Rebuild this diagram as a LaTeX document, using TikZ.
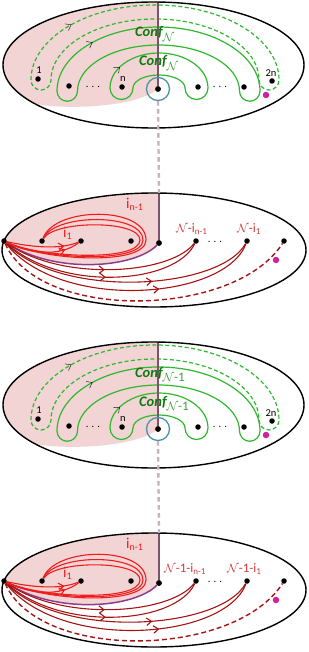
\documentclass[tikz,border=0pt]{standalone}
\usepackage{fontspec}
\setmainfont{Carlito}
\usetikzlibrary{arrows.meta,decorations.markings}
\definecolor{gr}{HTML}{2EB82E}
\definecolor{grtext}{HTML}{0F7A0F}
\definecolor{grsub}{HTML}{3E9E3E}
\definecolor{pinkf}{HTML}{F2D4D4}
\definecolor{stem}{HTML}{7A5468}
\definecolor{dotl}{HTML}{C4B2C0}
\definecolor{circ}{HTML}{4A93A8}
\definecolor{mag}{HTML}{D0209A}
\definecolor{rd}{HTML}{EE1C1C}
\definecolor{drd}{HTML}{A51414}
\definecolor{purp}{HTML}{8C3C8C}
\definecolor{rtext}{HTML}{CC3A3A}
\newcommand{\lsub}[1]{\raisebox{-0.35ex}{\fontsize{10}{10}\selectfont #1}}
\newcommand{\nsub}[1]{\raisebox{-0.35ex}{\fontsize{9}{9}\selectfont #1}}
\newcommand{\confsub}[1]{\raisebox{-0.6ex}{\color{grsub}\fontsize{13}{13}\selectfont\mdseries\upshape #1}}
\tikzset{
 every node/.style={inner sep=0pt},
 dot/.style={circle,fill=black,inner sep=0pt,minimum size=5.5pt},
 mdot/.style={circle,fill=mag,inner sep=0pt,minimum size=6.5pt},
 rim/.style={draw=black,line width=1.4pt},
 gline/.style={draw=gr,line width=1.2pt},
 gdash/.style={gline,dash pattern=on 4pt off 2.5pt},
 stemline/.style={draw=stem,line width=2.4pt},
 dotline/.style={draw=dotl,line width=2.4pt,dash pattern=on 4.5pt off 3.5pt},
 ringst/.style={draw=circ,circle,line width=1.3pt,minimum size=23pt},
 rline/.style={draw=rd,line width=1.1pt},
 drline/.style={draw=drd,line width=1.1pt},
 drdash/.style={drline,line width=1.4pt,dash pattern=on 5pt off 3pt},
 pline/.style={draw=purp,line width=1.5pt},
 arrowend/.style={decorate,decoration={markings,mark=at position 0.999 with {\arrow{Straight Barb[length=5pt,width=7.5pt]}}}},
 arrowat/.style={postaction={decorate},decoration={markings,mark=at position #1 with {\arrow{Straight Barb[length=5pt,width=7.5pt]}}}},
 conf/.style={font=\fontsize{14.5}{14.5}\selectfont\bfseries\itshape,text=grtext,anchor=base west},
 small/.style={font=\fontsize{10.5}{10.5}\selectfont},
 rlab/.style={font=\fontsize{15}{15}\selectfont,text=rd,anchor=base west},
 nlab/.style={font=\fontsize{13}{13}\selectfont,text=rtext,anchor=base west},
}
\newcommand{\panelA}[2]{%
 \begin{scope}
  \clip (153.5,-65) ellipse[x radius=150.5,y radius=63];
  \fill[pinkf] (158,2) -- (158,-89) .. controls (140,-104) and (90,-109) .. (50,-106) .. controls (30,-104) and (15,-99) .. (0,-93) -- (0,2) -- cycle;
 \end{scope}
 % dashed outer loop
 \draw[gdash] (31,-80) arc[start angle=180,end angle=0,x radius=124,y radius=75]
   arc[start angle=0,end angle=-180,radius=10]
   arc[start angle=0,end angle=180,x radius=104,y radius=61]
   arc[start angle=0,end angle=-180,radius=10] -- cycle;
 \path[arrowend,draw=gr,gr,line width=1.2pt] (31,-80) arc[start angle=180,end angle=132,x radius=124,y radius=75];
 % middle loop
 \draw[gline] (57,-91) arc[start angle=180,end angle=0,x radius=101.5,y radius=64]
   arc[start angle=0,end angle=-180,radius=10.25]
   arc[start angle=0,end angle=180,x radius=81,y radius=46]
   arc[start angle=0,end angle=-180,radius=10.25] -- cycle;
 \path[arrowend,draw=gr,gr,line width=1.2pt] (57,-91) arc[start angle=180,end angle=130,x radius=101.5,y radius=64];
 % inner loop
 \draw[gline] (110,-88) arc[start angle=180,end angle=0,x radius=49,y radius=35]
   arc[start angle=0,end angle=-180,radius=11.5]
   arc[start angle=0,end angle=180,x radius=26,y radius=13]
   arc[start angle=0,end angle=-180,radius=11.5] -- cycle;
 \path[arrowend,draw=gr,gr,line width=1.2pt] (110,-88) arc[start angle=180,end angle=142,x radius=49,y radius=35];
 % stem and centre
 \coordinate (#1top) at (158,-2);
 \node[dot] (#1o) at (158,-89) {};
 \draw[stemline] (#1top) -- (#1o.center);
 \node[dot] at (#1o) {};
 \node[ringst] (#1ring) at (#1o) {};
 % labels
 \node[conf] (#1cA) at (135,-37) {Conf\confsub{#2}};
 \node[conf] (#1cB) at (139,-66) {Conf\confsub{#2}};
 % points
 \node[dot] (#1p1) at (38,-79) {};
 \node[dot] (#1p2) at (69,-86) {};
 \node[dot] (#1pn) at (122,-87) {};
 \node[dot] (#1p3) at (198,-87) {};
 \node[dot] (#1p4) at (244,-87) {};
 \node[dot] (#1p2n) at (272,-81) {};
 \node[mdot] (#1m) at (266,-95) {};
 \node[small] (#1t1) at (39,-70) {1};
 \node[small] (#1tn) at (123,-79) {n};
 \node[small] (#1t2n) at (271,-73) {2n};
 \node[small] (#1e1) at (93,-87) {. . .};
 \node[small] (#1e2) at (220,-87) {. . .};
 \draw[rim] (153.5,-65) ellipse[x radius=150.5,y radius=63];
}
\newcommand{\panelB}[5]{%
 \begin{scope}
  \clip (154,-250) ellipse[x radius=152,y radius=57];
  \fill[pinkf] (159,-185) -- (159,-243) .. controls (135,-268) and (55,-275) .. (4,-241) -- (0,-241) -- (0,-185) -- cycle;
 \end{scope}
 \coordinate (#1top) at (159,-193);
 \node[dot] (#1L) at (4,-241) {};
 \node[dot] (#1a) at (42,-241) {};
 \node[dot] (#1b) at (81,-241) {};
 \node[dot] (#1p) at (131,-241) {};
 \node[dot] (#1o) at (159,-243) {};
 \node[dot] (#1c) at (196,-241) {};
 \node[dot] (#1d) at (247,-241) {};
 \node[dot] (#1e) at (284,-241) {};
 % purple boundary
 \draw[pline] (#1o) .. controls (135,-268) and (55,-275) .. (#1L);
 % dark red curves
 \draw[drline,arrowat=0.52] (#1L) .. controls (60,-282) and (170,-275) .. (#1c);
 \draw[drline,arrowat=0.52] (#1L) .. controls (60,-292) and (175,-285) .. (#1c);
 \draw[drline,arrowat=0.6] (#1L) .. controls (60,-300) and (220,-290) .. (#1d);
 \draw[drline,arrowat=0.62] (#1L) .. controls (60,-312) and (225,-300) .. (#1d);
 \draw[drdash] (#1L) .. controls (40,-322) and (235,-318) .. (#1e);
 % bright red curves
 \draw[rline,arrowat=0.8] (#1L) .. controls (30,-247) and (60,-250) .. (#1b);
 \draw[rline,arrowat=0.8] (#1L) .. controls (30,-254) and (60,-257) .. (#1b);
 \draw[rline] (#1L) .. controls (40,-258) and (140,-262) .. (140,-240) .. controls (140,-220) and (55,-220) .. (#1a);
 \draw[rline] (#1L) .. controls (42,-259.5) and (143,-264) .. (143,-240) .. controls (143,-213) and (55,-213) .. (#1a);
 \draw[rline] (#1L) .. controls (44,-261) and (146,-266) .. (146,-240) .. controls (146,-206) and (55,-206) .. (#1a);
 % stem
 \draw[stemline] (#1top) -- (#1o.center);
 \node[dot] at (#1o) {};
 % labels
 \node[rlab] (#1ln) at (126,-208) {i\lsub{n-1}};
 \node[rlab] (#1l1) at (63,-237) {i\lsub{1}};
 \node[nlab] (#1lc) at (#2,-232) {#4};
 \node[nlab] (#1ld) at (#3,-232) {#5};
 \node[small] (#1el) at (215,-242) {. . .};
 \node[mdot] (#1m) at (276,-260) {};
 \draw[rim] (154,-250) ellipse[x radius=152,y radius=57];
}
\begin{document}
\begin{tikzpicture}[x=1pt,y=1pt]
\useasboundingbox (0,0) rectangle (308,-652);
\panelA{A}{$\mathcal{N}$}
\panelB{B}{176}{237}{$\mathcal{N}$-i\nsub{n-1}}{$\mathcal{N}$-i\nsub{1}}
\draw[dotline] (Aring.south) -- (Btop);
\begin{scope}[yshift=-340pt]
\panelA{C}{$\mathcal{N}$-1}
\panelB{D}{164}{227}{$\mathcal{N}$-1-i\nsub{n-1}}{$\mathcal{N}$-1-i\nsub{1}}
\end{scope}
\draw[dotline] (Cring.south) -- (Dtop);
\end{tikzpicture}
\end{document}
